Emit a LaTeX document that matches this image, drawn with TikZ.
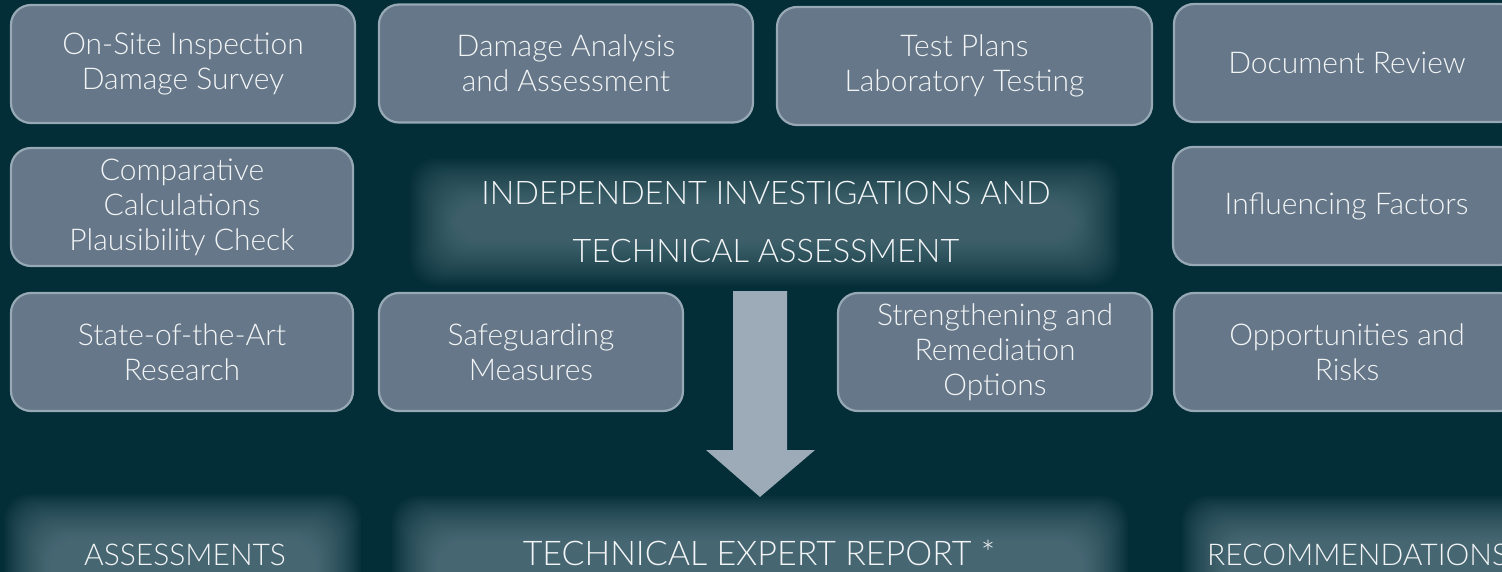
\documentclass[tikz,border=0pt]{standalone}
\usepackage{fontspec}
\setmainfont{Lato Light}
\usepackage{xcolor}
\usepackage{tikz}

\definecolor{bgc}{HTML}{032D37}
\definecolor{boxc}{HTML}{657788}
\definecolor{edgec}{HTML}{98A9B6}
\definecolor{arrowc}{HTML}{9CABB7}
\definecolor{glowc}{HTML}{6E8C98}
\definecolor{txtc}{HTML}{F2F4F5}

% soft glow behind a label: x1,y1,x2,y2,opacity
\newcommand\glowrect[5]{%
  \foreach \k in {0,...,23}{
    \fill[glowc, fill opacity=#5, rounded corners=26pt]
      ({#1-46+2*\k},{#2-46+2*\k}) rectangle ({#3+46-2*\k},{#4+46-2*\k});
  }}

\begin{document}
\begin{tikzpicture}[x=1pt, y=-1pt,
      task/.style={draw=edgec, line width=2.2pt, fill=boxc, rounded corners=20pt,
                   minimum width=344pt, minimum height=118pt, align=center,
                   text=txtc, font=\fontsize{30}{35}\selectfont},
      label/.style={text=txtc, font=\fontsize{30}{58}\selectfont, align=center},
      blockarrow/.style={fill=arrowc}
    ]
    \fill[bgc] (0,0) rectangle (1502,572);
    \clip (0,0) rectangle (1502,572);
    % Glows
    \glowrect{456}{204}{1074}{240}{0.04}
    \glowrect{50}{540}{315}{600}{0.048}
    \glowrect{438}{542}{1082}{600}{0.048}
    \glowrect{1228}{542}{1540}{600}{0.048}
    % Row 1
    \node[task] (inspect) at (183,64)   {On-Site Inspection\\Damage Survey};
    \node[task, minimum width=374pt] (damage) at (566,63.5) {Damage Analysis\\and Assessment};
    \node[task, minimum width=375pt] (tests)  at (964.5,66) {Test Plans\\Laboratory Testing};
    \node[task, minimum width=346pt] (docs)   at (1347,63)  {Document Review};
    % Row 2
    \node[task, minimum width=342pt] (calc)    at (182,207)  {Comparative\\Calculations\\Plausibility Check};
    \node[label, font=\fontsize{32.5}{58}\selectfont] (title) at (766,222) {INDEPENDENT INVESTIGATIONS AND\\TECHNICAL ASSESSMENT};
    \node[task, minimum width=347pt] (factors) at (1346.5,206) {Influencing Factors};
    % Row 3
    \node[task, minimum width=342pt] (research) at (182,352)  {State-of-the-Art\\Research};
    \node[task, minimum width=304pt] (safe)     at (531,352)  {Safeguarding\\Measures};
    \node[task, minimum width=314pt] (repair)   at (995,352)  {Strengthening and\\Remediation\\Options};
    \node[task, minimum width=346pt] (risks)    at (1347,352) {Opportunities and\\Risks};
    % Block arrow
    \fill[blockarrow] (733,291) -- (787,291) -- (787,450) -- (815,450)
      -- (760,497) -- (706,450) -- (733,450) -- cycle;
    % Results
    \node[label, anchor=base] (assess) at (185,565)  {ASSESSMENTS};
    \node[label, anchor=base, font=\fontsize{34}{40}\selectfont] (report) at (759,565) {TECHNICAL EXPERT REPORT *};
    \node[label, anchor=base west, inner sep=0pt] (recomm) at (1207,565) {RECOMMENDATIONS};
  \end{tikzpicture}
\end{document}
